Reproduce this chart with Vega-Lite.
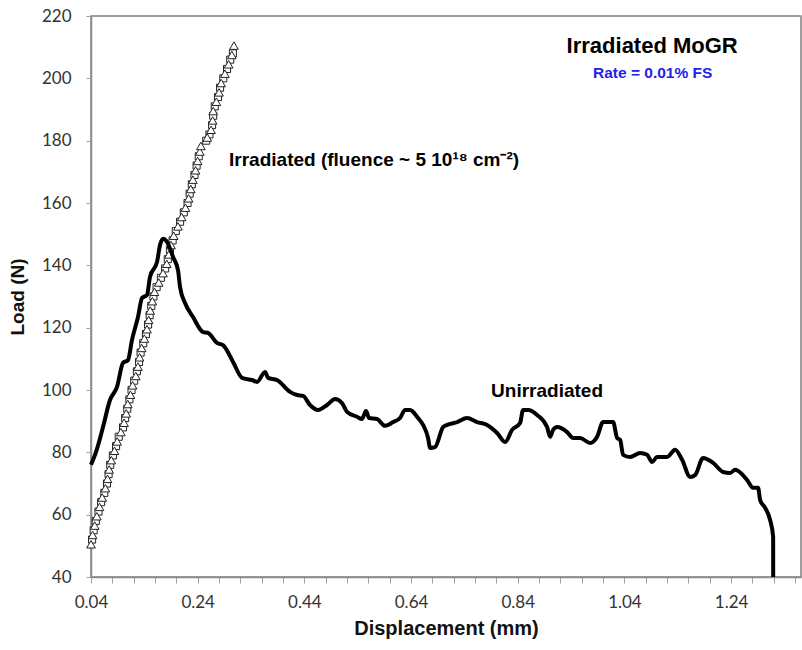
{
  "$schema": "https://vega.github.io/schema/vega-lite/v6.json",
  "width": 710,
  "height": 561,
  "autosize": {"type": "none"},
  "padding": {"left": 91, "top": 16, "right": 1, "bottom": 73},
  "background": "white",
  "config": {
    "view": {"stroke": "#7f7f7f", "strokeWidth": 1.5},
    "axis": {
      "grid": false,
      "domainColor": "#8c8c8c",
      "domainWidth": 1.5,
      "tickColor": "#a0a0a0",
      "tickSize": 6,
      "labelFont": "Lato",
      "labelFontSize": 17,
      "labelColor": "#333333",
      "titleFont": "Liberation Sans Narrow, Liberation Sans",
      "titleFontWeight": "bold",
      "titleColor": "#111111"
    }
  },
  "datasets": {
    "unirr": [
      {"d": 0.040, "load": 76.0}, {"d": 0.0507, "load": 80.8}, {"d": 0.0625, "load": 88.1}, {"d": 0.0756, "load": 96.8},
      {"d": 0.0888, "load": 101.0}, {"d": 0.100, "load": 108.7}, {"d": 0.1094, "load": 109.6}, {"d": 0.1169, "load": 116.1},
      {"d": 0.1281, "load": 123.4}, {"d": 0.1356, "load": 129.5}, {"d": 0.145, "load": 130.5}, {"d": 0.1506, "load": 136.3},
      {"d": 0.1638, "load": 141.1}, {"d": 0.1694, "load": 146.5}, {"d": 0.175, "load": 148.5}, {"d": 0.1825, "load": 147.5},
      {"d": 0.1938, "load": 142.7}, {"d": 0.2031, "load": 138.5}, {"d": 0.2069, "load": 133.1}, {"d": 0.2163, "load": 127.9},
      {"d": 0.2313, "load": 123.4}, {"d": 0.25, "load": 118.6}, {"d": 0.2594, "load": 118.3}, {"d": 0.2763, "load": 115.1},
      {"d": 0.2875, "load": 114.4}, {"d": 0.3063, "load": 109.0}, {"d": 0.3231, "load": 103.9}, {"d": 0.3419, "load": 103.2},
      {"d": 0.3513, "load": 102.6}, {"d": 0.3663, "load": 105.8}, {"d": 0.3719, "load": 103.9}, {"d": 0.3888, "load": 103.2},
      {"d": 0.4131, "load": 99.4}, {"d": 0.4263, "load": 98.4}, {"d": 0.4375, "load": 98.1}, {"d": 0.4506, "load": 95.2},
      {"d": 0.4656, "load": 93.6}, {"d": 0.4825, "load": 95.2}, {"d": 0.4975, "load": 97.1}, {"d": 0.5106, "load": 95.8},
      {"d": 0.52, "load": 93.0}, {"d": 0.5388, "load": 91.4}, {"d": 0.5481, "load": 90.7}, {"d": 0.5556, "load": 93.3},
      {"d": 0.5613, "load": 91.0}, {"d": 0.5763, "load": 90.7}, {"d": 0.5913, "load": 88.5}, {"d": 0.6063, "load": 89.7},
      {"d": 0.6194, "load": 91.0}, {"d": 0.6288, "load": 93.6}, {"d": 0.6381, "load": 93.6}, {"d": 0.6531, "load": 91.0},
      {"d": 0.6625, "load": 88.8}, {"d": 0.6719, "load": 84.6}, {"d": 0.6757, "load": 81.4}, {"d": 0.685, "load": 81.7},
      {"d": 0.70, "load": 88.1}, {"d": 0.7075, "load": 88.8}, {"d": 0.7263, "load": 89.7}, {"d": 0.745, "load": 91.0},
      {"d": 0.7638, "load": 89.7}, {"d": 0.7825, "load": 88.8}, {"d": 0.8013, "load": 86.2}, {"d": 0.8163, "load": 83.3},
      {"d": 0.8294, "load": 87.2}, {"d": 0.8444, "load": 89.4}, {"d": 0.85, "load": 93.6}, {"d": 0.8594, "load": 93.6},
      {"d": 0.8763, "load": 92.0}, {"d": 0.895, "load": 88.1}, {"d": 0.9007, "load": 85.0}, {"d": 0.9063, "load": 87.2},
      {"d": 0.9138, "load": 88.1}, {"d": 0.9325, "load": 86.5}, {"d": 0.9438, "load": 84.6}, {"d": 0.9569, "load": 84.6},
      {"d": 0.9756, "load": 83.0}, {"d": 0.9888, "load": 85.0}, {"d": 1.000, "load": 89.7}, {"d": 1.0188, "load": 89.7},
      {"d": 1.0263, "load": 84.6}, {"d": 1.0319, "load": 84.0}, {"d": 1.0375, "load": 79.2}, {"d": 1.0506, "load": 78.5},
      {"d": 1.0694, "load": 79.8}, {"d": 1.0825, "load": 79.2}, {"d": 1.0919, "load": 76.9}, {"d": 1.1013, "load": 78.5},
      {"d": 1.12, "load": 78.5}, {"d": 1.135, "load": 80.8}, {"d": 1.1481, "load": 77.6}, {"d": 1.1631, "load": 72.1},
      {"d": 1.1725, "load": 72.7}, {"d": 1.1875, "load": 78.2}, {"d": 1.2063, "load": 76.6}, {"d": 1.225, "load": 73.7},
      {"d": 1.2381, "load": 73.4}, {"d": 1.2475, "load": 74.4}, {"d": 1.27, "load": 71.1}, {"d": 1.2813, "load": 68.6},
      {"d": 1.2906, "load": 68.6}, {"d": 1.2944, "load": 64.7}, {"d": 1.3038, "load": 62.2}, {"d": 1.3131, "load": 58.3},
      {"d": 1.3188, "load": 52.9}, {"d": 1.3189, "load": 40.0}
    ],
    "tri": [
      {"d": 0.040, "load": 50.5}, {"d": 0.043, "load": 53.5}, {"d": 0.047, "load": 56.5}, {"d": 0.051, "load": 59.5},
      {"d": 0.056, "load": 62.5}, {"d": 0.061, "load": 65.5}, {"d": 0.067, "load": 68.5}, {"d": 0.071, "load": 71.5},
      {"d": 0.074, "load": 74.5}, {"d": 0.078, "load": 77.5}, {"d": 0.084, "load": 80.5}, {"d": 0.089, "load": 83.5},
      {"d": 0.096, "load": 86.5}, {"d": 0.102, "load": 89.5}, {"d": 0.106, "load": 92.5}, {"d": 0.109, "load": 95.5},
      {"d": 0.114, "load": 98.5}, {"d": 0.118, "load": 101.5}, {"d": 0.124, "load": 104.5}, {"d": 0.128, "load": 107.5},
      {"d": 0.131, "load": 110.5}, {"d": 0.135, "load": 113.5}, {"d": 0.140, "load": 116.5}, {"d": 0.145, "load": 119.5},
      {"d": 0.148, "load": 122.5}, {"d": 0.151, "load": 125.5}, {"d": 0.155, "load": 128.5}, {"d": 0.159, "load": 131.5},
      {"d": 0.167, "load": 134.5}, {"d": 0.175, "load": 137.5}, {"d": 0.182, "load": 140.5}, {"d": 0.186, "load": 143.5},
      {"d": 0.190, "load": 146.5}, {"d": 0.195, "load": 149.5}, {"d": 0.203, "load": 152.5}, {"d": 0.210, "load": 155.5},
      {"d": 0.217, "load": 158.5}, {"d": 0.223, "load": 161.5}, {"d": 0.227, "load": 164.5}, {"d": 0.231, "load": 167.5},
      {"d": 0.236, "load": 170.5}, {"d": 0.240, "load": 173.5}, {"d": 0.244, "load": 176.5}, {"d": 0.246, "load": 178.3},
      {"d": 0.258, "load": 181.0}, {"d": 0.265, "load": 183.5}, {"d": 0.268, "load": 186.5}, {"d": 0.269, "load": 189.5},
      {"d": 0.275, "load": 192.5}, {"d": 0.280, "load": 195.5}, {"d": 0.284, "load": 198.5}, {"d": 0.291, "load": 201.5},
      {"d": 0.298, "load": 204.5}, {"d": 0.304, "load": 207.5}, {"d": 0.308, "load": 210.5}
    ],
    "sq": [
      {"d": 0.042, "load": 52}, {"d": 0.045, "load": 55}, {"d": 0.049, "load": 58}, {"d": 0.054, "load": 61},
      {"d": 0.059, "load": 64}, {"d": 0.065, "load": 67}, {"d": 0.070, "load": 70}, {"d": 0.073, "load": 73},
      {"d": 0.076, "load": 76}, {"d": 0.081, "load": 79}, {"d": 0.087, "load": 82}, {"d": 0.092, "load": 85},
      {"d": 0.100, "load": 88}, {"d": 0.104, "load": 91}, {"d": 0.108, "load": 94}, {"d": 0.112, "load": 97},
      {"d": 0.116, "load": 100}, {"d": 0.121, "load": 103}, {"d": 0.126, "load": 106}, {"d": 0.130, "load": 109},
      {"d": 0.133, "load": 112}, {"d": 0.138, "load": 115}, {"d": 0.143, "load": 118}, {"d": 0.147, "load": 121},
      {"d": 0.150, "load": 124}, {"d": 0.153, "load": 127}, {"d": 0.157, "load": 130}, {"d": 0.163, "load": 133},
      {"d": 0.171, "load": 136}, {"d": 0.179, "load": 139}, {"d": 0.184, "load": 142}, {"d": 0.188, "load": 145},
      {"d": 0.193, "load": 148}, {"d": 0.199, "load": 151}, {"d": 0.207, "load": 154}, {"d": 0.214, "load": 157},
      {"d": 0.221, "load": 160}, {"d": 0.225, "load": 163}, {"d": 0.229, "load": 166}, {"d": 0.234, "load": 169},
      {"d": 0.238, "load": 172}, {"d": 0.242, "load": 175}, {"d": 0.256, "load": 180}, {"d": 0.262, "load": 182},
      {"d": 0.267, "load": 185}, {"d": 0.269, "load": 188}, {"d": 0.272, "load": 191}, {"d": 0.278, "load": 194},
      {"d": 0.282, "load": 197}, {"d": 0.288, "load": 200}, {"d": 0.295, "load": 203}, {"d": 0.301, "load": 206},
      {"d": 0.306, "load": 208}
    ],
    "notes": [
      {"d": 1.092, "load": 210.3, "txt": "Irradiated MoGR", "kind": "title"},
      {"d": 1.093, "load": 201.7, "txt": "Rate = 0.01% FS", "kind": "rate"},
      {"d": 0.2988, "load": 173.8, "txt": "Irradiated (fluence ~ 5 10¹⁸ cm⁻²)", "kind": "lab"},
      {"d": 0.790, "load": 99.7, "txt": "Unirradiated", "kind": "lab"}
    ]
  },
  "encoding": {
    "x": {
      "field": "d", "type": "quantitative",
      "scale": {"domain": [0.04, 1.371], "nice": false, "zero": false},
      "axis": {
        "title": "Displacement (mm)",
        "titleFontSize": 20,
        "titlePadding": 8,
        "values": [0.04, 0.08, 0.12, 0.16, 0.2, 0.24, 0.28, 0.32, 0.36, 0.4, 0.44, 0.48, 0.52, 0.56, 0.6, 0.64, 0.68, 0.72, 0.76, 0.8, 0.84, 0.88, 0.92, 0.96, 1.0, 1.04, 1.08, 1.12, 1.16, 1.2, 1.24, 1.28, 1.32, 1.36],
        "labelExpr": "abs(round((datum.value - 0.04) * 100)) % 20 == 0 ? format(datum.value, '.2f') : ''",
        "labelOverlap": false,
        "labelFlush": false,
        "labelPadding": 11
      }
    },
    "y": {
      "field": "load", "type": "quantitative",
      "scale": {"domain": [40, 220], "nice": false, "zero": false},
      "axis": {
        "title": "Load (N)",
        "titleFontSize": 19,
        "titlePadding": 14,
        "values": [40, 60, 80, 100, 120, 140, 160, 180, 200, 220],
        "labelPadding": 15,
        "tickSize": 5
      }
    }
  },
  "layer": [
    {
      "data": {"name": "sq"},
      "mark": {"type": "point", "shape": "square", "size": 50, "filled": false, "fill": "white", "fillOpacity": 1, "stroke": "#222222", "strokeWidth": 1, "opacity": 1}
    },
    {
      "data": {"name": "tri"},
      "mark": {"type": "point", "shape": "triangle-up", "size": 75, "filled": false, "fill": "white", "fillOpacity": 1, "stroke": "#222222", "strokeWidth": 1, "opacity": 1}
    },
    {
      "data": {"name": "unirr"},
      "mark": {"type": "line", "color": "black", "strokeWidth": 4, "strokeJoin": "round", "strokeCap": "butt", "interpolate": "monotone"}
    },
    {
      "data": {"name": "notes"},
      "transform": [{"filter": "datum.kind == 'title'"}],
      "mark": {"type": "text", "font": "Liberation Sans Narrow, Liberation Sans", "fontWeight": "bold", "fontSize": 22, "color": "black", "align": "center", "baseline": "middle"},
      "encoding": {"text": {"field": "txt"}}
    },
    {
      "data": {"name": "notes"},
      "transform": [{"filter": "datum.kind == 'rate'"}],
      "mark": {"type": "text", "font": "Liberation Sans Narrow, Liberation Sans", "fontWeight": "bold", "fontSize": 15.5, "color": "#2222ee", "align": "center", "baseline": "middle"},
      "encoding": {"text": {"field": "txt"}}
    },
    {
      "data": {"name": "notes"},
      "transform": [{"filter": "datum.kind == 'lab'"}],
      "mark": {"type": "text", "font": "Liberation Sans Narrow, Liberation Sans", "fontWeight": "bold", "fontSize": 19, "color": "black", "align": "left", "baseline": "middle"},
      "encoding": {"text": {"field": "txt"}}
    }
  ]
}
